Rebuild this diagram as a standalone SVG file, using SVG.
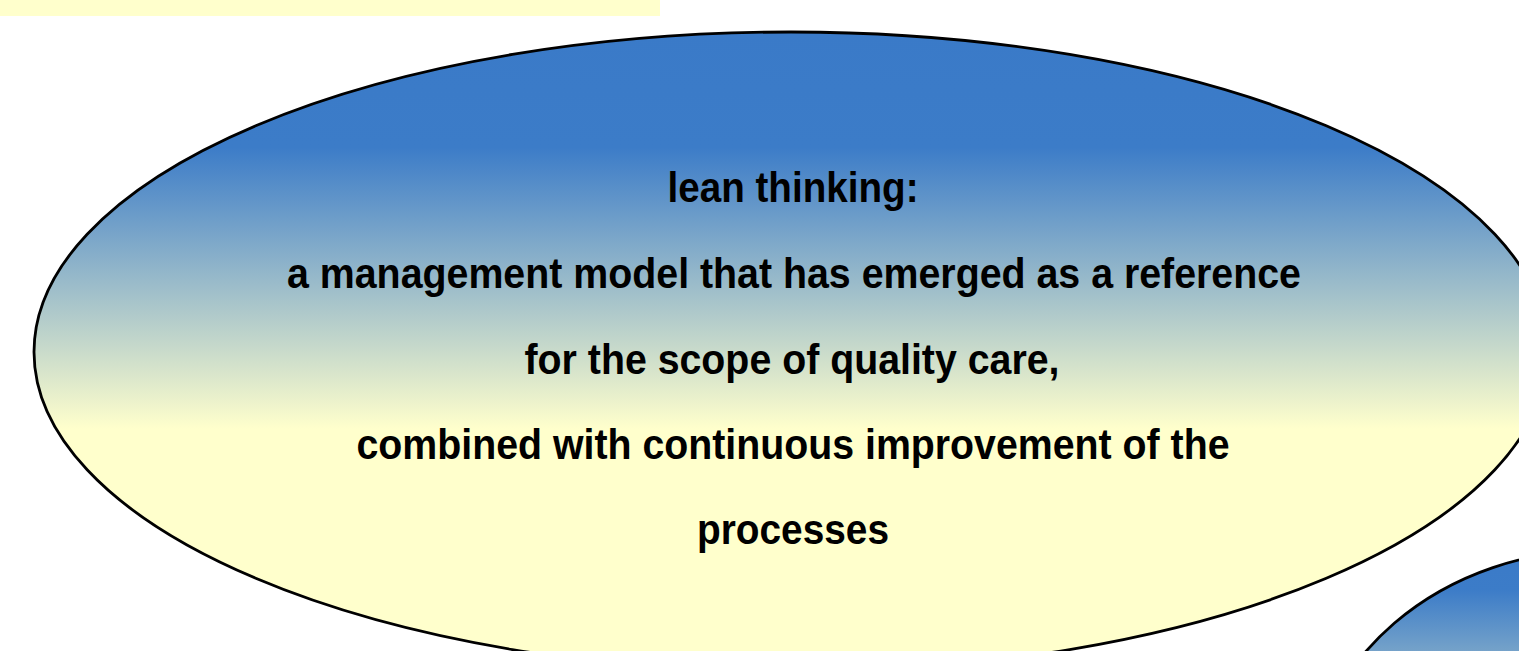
<svg xmlns="http://www.w3.org/2000/svg" width="1519" height="651" viewBox="0 0 1519 651">
<style>
.bubble{stroke:#000;stroke-width:2.8}
.t{font-family:"Liberation Sans Narrow","Arial Narrow","Liberation Sans",Arial,sans-serif;font-weight:bold;font-size:42px;fill:#000;text-anchor:middle}
</style>
<defs>
<linearGradient id="g1" x1="0" y1="0" x2="0" y2="1">
<stop offset="0" stop-color="#3A7AC8"/>
<stop offset="0.18" stop-color="#3C7CC8"/>
<stop offset="0.62" stop-color="#FFFFCC"/>
<stop offset="1" stop-color="#FFFFCC"/>
</linearGradient>
<linearGradient id="g2" x1="0" y1="0" x2="0" y2="1">
<stop offset="0" stop-color="#3A7AC8"/>
<stop offset="0.08" stop-color="#3C7CC8"/>
<stop offset="0.5" stop-color="#FFFFCC"/>
<stop offset="1" stop-color="#FFFFCC"/>
</linearGradient>
</defs>
<rect x="0" y="0" width="660" height="16" fill="#FFFFCC"/>
<g id="node-main">
<ellipse class="bubble" cx="791" cy="352" rx="757" ry="320" fill="url(#g1)"/>
<text class="t" x="793" y="202" textLength="251" lengthAdjust="spacingAndGlyphs">lean thinking:</text>
<text class="t" x="794" y="288" textLength="1014" lengthAdjust="spacingAndGlyphs">a management model that has emerged as a reference</text>
<text class="t" x="792" y="374" textLength="535" lengthAdjust="spacingAndGlyphs">for the scope of quality care,</text>
<text class="t" x="793" y="459" textLength="873" lengthAdjust="spacingAndGlyphs">combined with continuous improvement of the</text>
<text class="t" x="793" y="544" textLength="192" lengthAdjust="spacingAndGlyphs">processes</text>
</g>
<g id="node-second">
<ellipse class="bubble" cx="1600" cy="800" rx="291" ry="250" fill="url(#g2)"/>
</g>
<g id="connectors"></g>
</svg>
